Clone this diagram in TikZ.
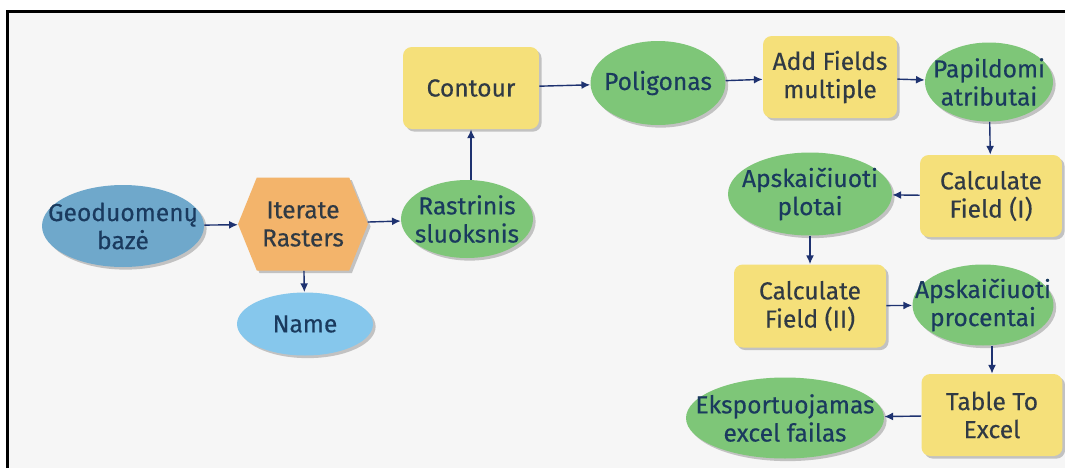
\documentclass[tikz,border=0pt]{standalone}
\usepackage{fontspec}
\setmainfont{Fira Sans}[FakeBold=0.35]
\usepackage{tikz}
\usetikzlibrary{arrows.meta, shapes, shadows}
\tikzset{>=latex}
\definecolor{myblue}{RGB}{111, 168, 203}
\definecolor{mylightblue}{RGB}{134, 199, 236}
\definecolor{myorange}{RGB}{243, 180, 107}
\definecolor{mygreen}{RGB}{126, 198, 120}
\definecolor{myyellow}{RGB}{245, 224, 122}
\definecolor{mygray1}{RGB}{246, 246, 246}
\definecolor{mynavy}{RGB}{30, 50, 112}
\definecolor{mytext1}{RGB}{26, 58, 94}
\definecolor{mytext2}{RGB}{48, 58, 68}

\begin{document}
\begin{tikzpicture}[
    x = 0.02cm, y = -0.02cm,
    every node/.style = {font = \fontsize{14}{16}\selectfont, align = center, inner sep = 0pt, text = mytext1},
    sh/.style = {drop shadow = {shadow xshift = 1.5pt, shadow yshift = -1.5pt, opacity = 0.3, fill = black!70}},
    ell/.style = {ellipse, fill = mygreen, inner xsep = -30pt, inner ysep = -12pt, sh},
    box/.style = {rectangle, rounded corners = 5pt, fill = myyellow, text = mytext2, sh},
    hexa/.style = {signal, signal to = east and west, signal pointer angle = 136, fill = myorange, text = mytext2, sh},
    a0/.style = {draw = mynavy, line width = 0.8pt, -{Latex[length = 5pt, width = 4.5pt]}},
]

\useasboundingbox (0,0) rectangle (1065,468);
\fill[white] (0,0) rectangle (1065,468);
\fill[mygray1] (7,11) rectangle (1065,468);
\draw[line width = 1.5pt, black] (7.3,468) -- (7.3,11.3) -- (1065,11.3);

\node[ell, fill = myblue, minimum width = 3.24cm, minimum height = 1.64cm] (geo) at (123,226) {Geoduomenų\\bazė};
\node[hexa, minimum width = 2.6cm, minimum height = 1.86cm] (iter) at (303,224) {Iterate\\Rasters};
\node[ell, fill = mylightblue, minimum width = 2.72cm, minimum height = 1.26cm] (name) at (305,324) {Name};
\node[ell, minimum width = 2.64cm, minimum height = 1.56cm] (rast) at (467,219) {Rastrinis\\sluoksnis};
\node[box, minimum width = 2.72cm, minimum height = 1.64cm] (contour) at (471,88) {Contour};

\node[ell, minimum width = 2.7cm, minimum height = 1.68cm] (polig) at (658,83) {Poligonas};
\node[box, minimum width = 2.68cm, minimum height = 1.64cm] (addf) at (830,77) {Add Fields\\multiple};
\node[ell, minimum width = 2.56cm, minimum height = 1.58cm] (papil) at (989,82) {Papildomi\\atributai};

\node[box, minimum width = 2.84cm, minimum height = 1.64cm] (calc1) at (991,196) {Calculate\\Field (I)};
\node[ell, minimum width = 3.28cm, minimum height = 1.66cm] (plot) at (810,194) {Apskaičiuoti\\plotai};
\node[box, minimum width = 3.04cm, minimum height = 1.66cm] (calc2) at (810,306) {Calculate\\Field (II)};
\node[ell, minimum width = 2.82cm, minimum height = 1.62cm] (proc) at (983,305) {Apskaičiuoti\\procentai};
\node[box, minimum width = 2.82cm, minimum height = 1.64cm] (table) at (992,415) {Table To\\Excel};
\node[ell, minimum width = 3.96cm, minimum height = 1.62cm] (eksp) at (785,418) {Eksportuojamas\\excel failas};

\draw[a0] (geo) -- (iter);
\draw[a0] (iter) -- (rast);
\draw[a0] (iter) -- (name);
\draw[a0] (contour.south |- rast.north) -- (contour);
\draw[a0] (contour) -- (polig);
\draw[a0] (polig) -- (addf);
\draw[a0] (addf) -- (papil);
\draw[a0] (papil) -- (calc1);
\draw[a0] (calc1) -- (plot);
\draw[a0] (plot) -- (calc2);
\draw[a0] (calc2) -- (proc);
\draw[a0] (proc.south -| table) -- (table);
\draw[a0] (table) -- (eksp);

\end{tikzpicture}
\end{document}
